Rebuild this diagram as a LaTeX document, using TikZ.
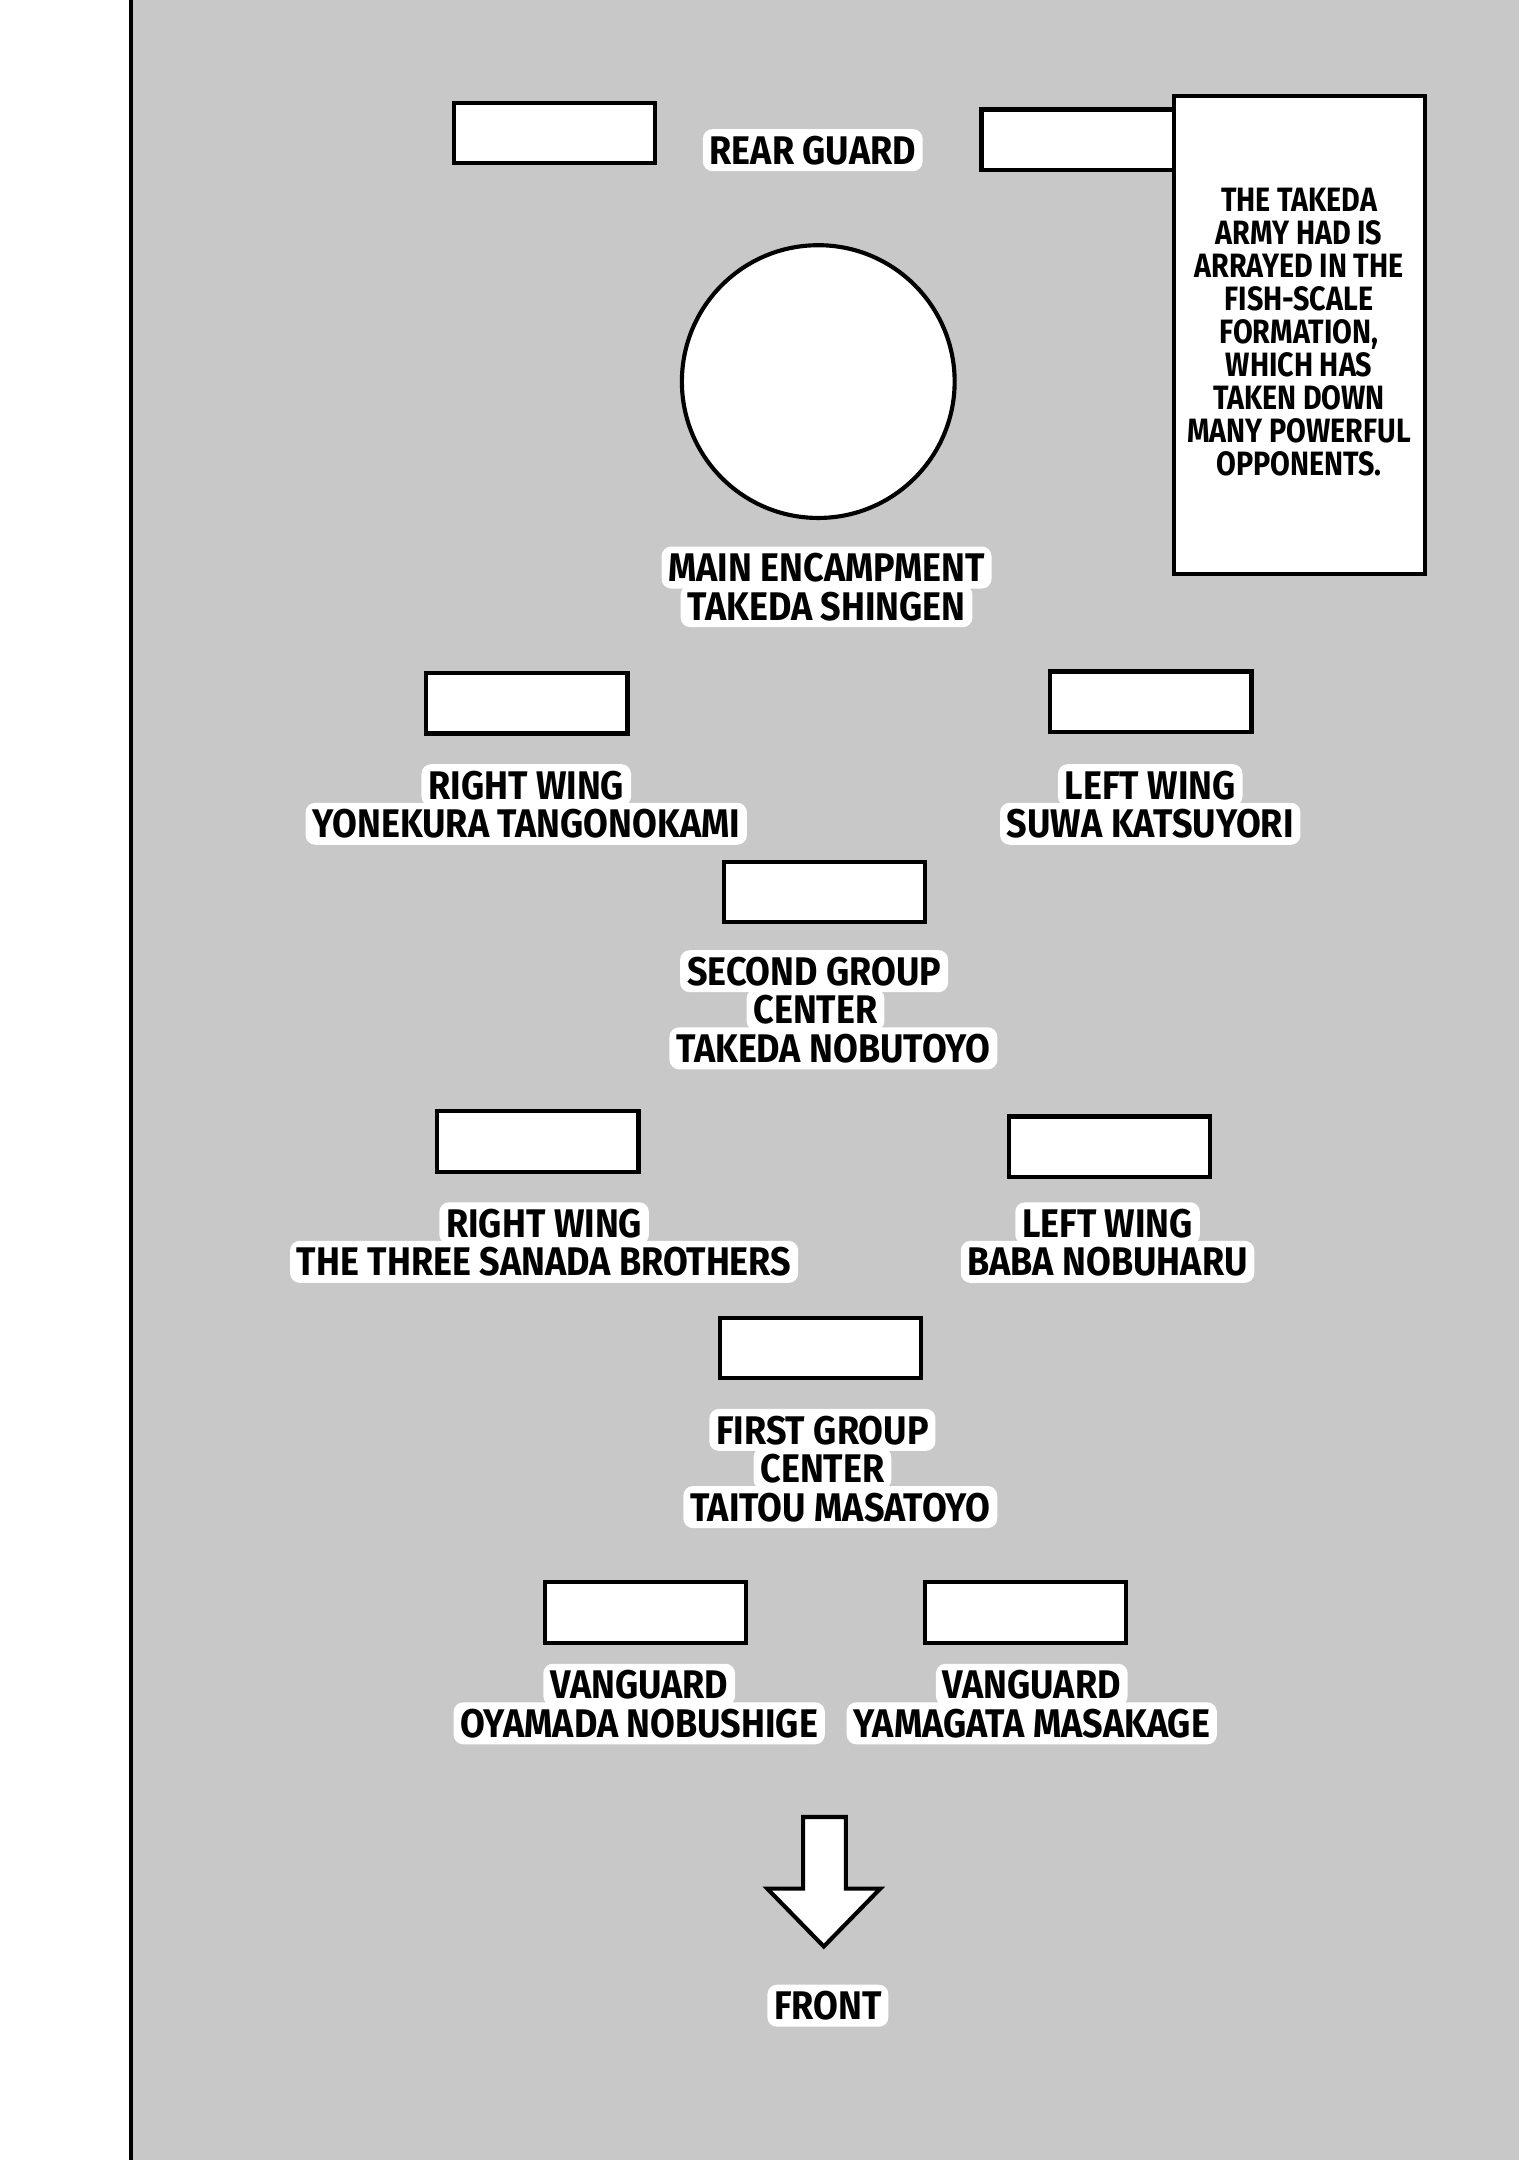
\documentclass[tikz,border=0pt]{standalone}
\usepackage{fontspec}
\setmainfont{Fira Sans}[FakeStretch=0.9]
\newfontfamily\notefont{Fira Sans}[FakeStretch=0.85]
\definecolor{tone}{RGB}{200,200,200}
\begin{document}
\begin{tikzpicture}[x=1pt,y=-1pt,
  unit/.style={draw=black,line width=3pt,fill=white,minimum width=146pt,minimum height=44pt,inner sep=0pt,anchor=north west},
  lbl/.style={font=\bfseries\fontsize{29}{28}\selectfont,text=black,fill=white,rounded corners=7pt,
    inner xsep=5pt,inner ysep=5pt,text height=20.5pt,text depth=0pt},
  note/.style={font=\notefont\bfseries\fontsize{24.5}{24}\selectfont,align=center,inner sep=0pt}]
\useasboundingbox (0,0) rectangle (1103,1568);
\fill[white] (0,0) rectangle (1103,1568);
\fill[tone] (95,0) rectangle (1103,1568);
\draw[line width=3pt] (95,-2) -- (95,1570);
% rear guard
\node[unit] (rgl) at (328,73) {};
\node[unit,minimum width=150pt] (rgr) at (711,78) {};
\node[draw,line width=3pt,fill=white,minimum width=182pt,minimum height=347pt,inner sep=0pt,anchor=north west] (box) at (851,68) {};
\node[note] (notetext) at (943,241) {THE TAKEDA\\ARMY HAD IS\\ARRAYED IN THE\\FISH-SCALE\\FORMATION,\\WHICH HAS\\TAKEN DOWN\\MANY POWERFUL\\OPPONENTS.};
\node[lbl] (rgt) at (590,109) {REAR GUARD};
% main encampment
\node[circle,draw,line width=3pt,fill=white,minimum size=198pt,inner sep=0pt] (main) at (594,277) {};
\node[lbl] (me1) at (600,412) {MAIN ENCAMPMENT};
\node[lbl] (me2) at (600,440) {TAKEDA SHINGEN};
% second group wings
\node[unit] (rw1) at (308,487) {};
\node[lbl] (rw1a) at (382,570) {RIGHT WING};
\node[lbl] (rw1b) at (382,598) {YONEKURA TANGONOKAMI};
\node[unit] (lw1) at (761,486) {};
\node[lbl] (lw1a) at (835,570) {LEFT WING};
\node[lbl] (lw1b) at (835,598) {SUWA KATSUYORI};
% second group center
\node[unit] (sg) at (524,624) {};
\node[lbl] (sga) at (591,705) {SECOND GROUP};
\node[lbl] (sgb) at (592,733) {CENTER};
\node[lbl] (sgc) at (605,761) {TAKEDA NOBUTOYO};
% first group wings
\node[unit] (rw2) at (316,805) {};
\node[lbl] (rw2a) at (395,888) {RIGHT WING};
\node[lbl] (rw2b) at (395,916) {THE THREE SANADA BROTHERS};
\node[unit] (lw2) at (731,809) {};
\node[lbl] (lw2a) at (804,888) {LEFT WING};
\node[lbl] (lw2b) at (804,916) {BABA NOBUHARU};
% first group center
\node[unit] (fg) at (521,955) {};
\node[lbl] (fga) at (597,1038) {FIRST GROUP};
\node[lbl] (fgb) at (597,1066) {CENTER};
\node[lbl] (fgc) at (610,1094) {TAITOU MASATOYO};
% vanguard
\node[unit] (v1) at (394,1147) {};
\node[lbl] (v1a) at (464,1223) {VANGUARD};
\node[lbl] (v1b) at (464,1251) {OYAMADA NOBUSHIGE};
\node[unit] (v2) at (670,1147) {};
\node[lbl] (v2a) at (749,1223) {VANGUARD};
\node[lbl] (v2b) at (749,1251) {YAMAGATA MASAKAGE};
% front arrow
\draw[line width=3pt,fill=white,line join=miter] (583,1319) -- (614,1319) -- (614,1371) -- (639,1371) -- (598,1413) -- (557,1371) -- (583,1371) -- cycle;
\node[lbl] (front) at (601,1456) {FRONT};
\end{tikzpicture}
\end{document}
